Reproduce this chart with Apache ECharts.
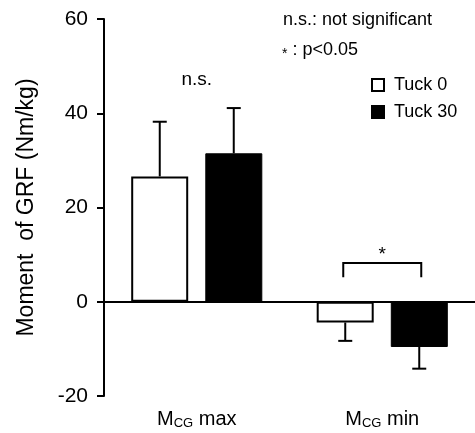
<!DOCTYPE html>
<html>
<head>
<meta charset="utf-8">
<script src="https://cdn.jsdelivr.net/npm/echarts@6/dist/echarts.min.js"></script>
<style>
  html, body { margin: 0; padding: 0; background: #fff; }
  #chart { width: 475px; height: 433px; }
</style>
</head>
<body>
<div id="chart"></div>
<script>
  // values
  var categories = ['max', 'min']
  var tuck0 = [26.6, -4.4]
  var tuck30 = [31.5, -9.6]
  var tuck0Sd = [11.6, 3.9]
  var tuck30Sd = [9.6, 4.6]
  var yTicks = [-20, 60, 20] // min, max, interval
  // annotations: [category index, y value, text]
  var notes = [[0, 47, 'n.s.'], [1, 10, '*']]
  // significance bracket: [category index, top y, leg end y]
  var brackets = [[1, 8.2, 5.2]]

  var BAR_W = 57
  var OFFSET = 37 // half of bar width + gap between paired bars
  var FONT = 'Liberation Sans, Arial, sans-serif'

  var chart = echarts.init(document.getElementById('chart'))

  function errorSeries(name, means, sds, side) {
    return {
      type: 'custom',
      name: name + ' err',
      z: 1,
      silent: true,
      data: means.map(function (m, i) {
        return [i, m, m + (m >= 0 ? sds[i] : -sds[i])]
      }),
      renderItem: function (params, api) {
        var p0 = api.coord([api.value(0), api.value(1)])
        var p1 = api.coord([api.value(0), api.value(2)])
        var x = p0[0] + side * OFFSET
        var style = { stroke: '#000', lineWidth: 2 }
        return {
          type: 'group',
          children: [
            { type: 'line', shape: { x1: x, y1: p0[1], x2: x, y2: p1[1] }, style: style },
            { type: 'line', shape: { x1: x - 7, y1: p1[1], x2: x + 7, y2: p1[1] }, style: style }
          ]
        }
      }
    }
  }

  chart.setOption({
    animation: false,
    grid: { left: 104, right: 0, top: 19, bottom: 37 },
    legend: {
      orient: 'vertical',
      left: 371,
      top: 76,
      padding: 0,
      itemWidth: 12,
      itemHeight: 12,
      itemGap: 9,
      icon: 'rect',
      data: ['Tuck 0', 'Tuck 30'],
      textStyle: { fontFamily: FONT, fontSize: 18, color: '#000', padding: [0, 0, 0, 5] }
    },
    graphic: [
      {
        type: 'text', left: 283, top: 11,
        style: { text: 'n.s.: not significant', font: '18px ' + FONT, fill: '#000' }
      },
      {
        type: 'text', left: 282, top: 41,
        style: {
          text: '{s|*} : p<0.05',
          rich: { s: { fontSize: 14, padding: [8, 0, 0, 0] } },
          font: '18px ' + FONT, fill: '#000'
        }
      }
    ],
    xAxis: {
      type: 'category',
      data: categories,
      axisLine: { lineStyle: { color: '#000', width: 2 } },
      axisTick: { show: false },
      axisLabel: {
        margin: 12,
        color: '#000',
        fontFamily: FONT,
        formatter: function (v) { return '{m|M}{sub|CG}{m| ' + v + '}' },
        rich: {
          m: { fontSize: 20, fontFamily: FONT, color: '#000' },
          sub: { fontSize: 13, fontFamily: FONT, color: '#000', padding: [9, 0, 0, 0] }
        }
      }
    },
    yAxis: {
      type: 'value',
      min: yTicks[0],
      max: yTicks[1],
      interval: yTicks[2],
      name: 'Moment  of GRF (Nm/kg)',
      nameLocation: 'middle',
      nameGap: 66,
      nameTextStyle: { fontFamily: FONT, fontSize: 23, color: '#000' },
      axisLine: { show: true, onZero: false, lineStyle: { color: '#000', width: 2 } },
      axisTick: { show: true, length: 7, lineStyle: { color: '#000', width: 2 } },
      axisLabel: { margin: 16, color: '#000', fontFamily: FONT, fontSize: 21 },
      splitLine: { show: false }
    },
    series: [
      {
        name: 'Tuck 0',
        type: 'bar',
        barWidth: BAR_W,
        barGap: '30%',
        z: 3,
        data: tuck0,
        itemStyle: { color: '#fff', borderColor: '#000', borderWidth: 2 },
        markLine: {
          silent: true,
          symbol: 'none',
          label: { show: false },
          lineStyle: { color: '#000', width: 2, type: 'solid' },
          data: [{ yAxis: 0 }]
        }
      },
      {
        name: 'Tuck 30',
        type: 'bar',
        barWidth: BAR_W,
        z: 3,
        data: tuck30,
        itemStyle: { color: '#000', borderColor: '#000', borderWidth: 1 }
      },
      errorSeries('Tuck 0', tuck0, tuck0Sd, -1),
      errorSeries('Tuck 30', tuck30, tuck30Sd, 1),
      {
        type: 'custom',
        name: 'notes',
        silent: true,
        data: notes,
        renderItem: function (params, api) {
          var p = api.coord([api.value(0), api.value(1)])
          return {
            type: 'text',
            x: p[0],
            y: p[1],
            style: {
              text: notes[params.dataIndex][2],
              font: '19px ' + FONT,
              fill: '#000',
              align: 'center',
              verticalAlign: 'middle'
            }
          }
        }
      },
      {
        type: 'custom',
        name: 'bracket',
        silent: true,
        data: brackets,
        renderItem: function (params, api) {
          var top = api.coord([api.value(0), api.value(1)])
          var leg = api.coord([api.value(0), api.value(2)])
          var xl = top[0] - OFFSET - 2
          var xr = top[0] + OFFSET + 2
          return {
            type: 'polyline',
            shape: { points: [[xl, leg[1]], [xl, top[1]], [xr, top[1]], [xr, leg[1]]] },
            style: { stroke: '#000', lineWidth: 2, fill: null }
          }
        }
      }
    ]
  })
</script>
</body>
</html>
